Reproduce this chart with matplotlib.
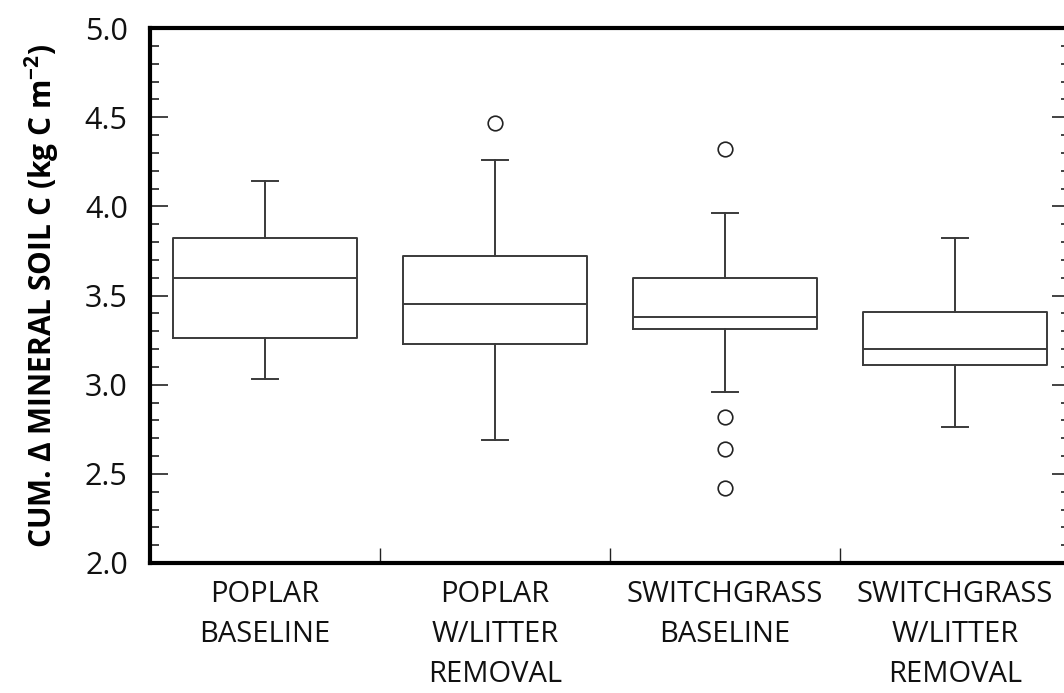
import matplotlib
matplotlib.use("Agg")
import matplotlib.pyplot as plt
from matplotlib.ticker import MultipleLocator, FixedLocator

plt.rcParams['font.family'] = ['Open Sans', 'DejaVu Sans']
plt.rcParams['mathtext.fontset'] = 'custom'
plt.rcParams['mathtext.rm'] = 'Open Sans'
plt.rcParams['mathtext.bf'] = 'Open Sans:bold'

categories = ["POPLAR\nBASELINE", "POPLAR\nW/LITTER\nREMOVAL",
              "SWITCHGRASS\nBASELINE", "SWITCHGRASS\nW/LITTER\nREMOVAL"]
whisker_low = [3.03, 2.69, 2.96, 2.76]
q1 = [3.26, 3.23, 3.31, 3.11]
median = [3.60, 3.45, 3.38, 3.20]
q3 = [3.82, 3.72, 3.60, 3.41]
whisker_high = [4.14, 4.26, 3.96, 3.82]
outliers = [[], [4.47], [4.32, 2.82, 2.64, 2.42], []]
yticks = [2.0, 2.5, 3.0, 3.5, 4.0, 4.5, 5.0]

stats = []
for i in range(len(categories)):
    stats.append(dict(whislo=whisker_low[i], q1=q1[i], med=median[i], q3=q3[i],
                      whishi=whisker_high[i], fliers=outliers[i], label=categories[i]))

fig = plt.figure(figsize=(10.64, 6.93), dpi=100)
ax = fig.add_axes([150/1064, (693-563)/693, (1070-150)/1064, (563-28)/693])

lc = '#3a3a3a'
positions = list(range(1, len(categories) + 1))
ax.bxp(stats, positions=positions, widths=0.8, capwidths=0.11,
       boxprops=dict(color=lc, linewidth=1.4),
       medianprops=dict(color=lc, linewidth=1.4),
       whiskerprops=dict(color=lc, linewidth=1.4),
       capprops=dict(color=lc, linewidth=1.4),
       flierprops=dict(marker='o', markerfacecolor='none', markeredgecolor='#222222',
                       markersize=10.5, markeredgewidth=1.2))

ax.set_xlim(0.5, 4.5)
ax.set_ylim(2.0, 5.0)
ax.set_yticks(yticks)
ax.set_yticklabels([f"{v:.1f}" for v in yticks], fontsize=22, color='#111111')
ax.yaxis.set_minor_locator(MultipleLocator(0.1))
ax.tick_params(axis='y', which='major', direction='in', length=13, width=1.2,
               left=True, right=True, pad=16, color='#222222')
ax.tick_params(axis='y', which='minor', direction='in', length=6.5, width=1.2,
               left=True, right=True, color='#222222')

ax.set_xticks(positions)
ax.set_xticklabels(categories, fontsize=21, color='#111111', linespacing=1.5)
ax.tick_params(axis='x', which='major', length=0, pad=12)
ax.xaxis.set_minor_locator(FixedLocator([1.5, 2.5, 3.5]))
ax.tick_params(axis='x', which='minor', direction='in', length=11, width=1.0,
               bottom=True, top=False, color='#222222')

for s in ['left', 'bottom', 'top']:
    ax.spines[s].set_linewidth(3)
    ax.spines[s].set_color('black')
ax.spines['right'].set_visible(False)

ax.set_ylabel(r'CUM. Δ MINERAL SOIL C (kg C m$^{\mathbf{-2}}$)', fontsize=21.5,
              fontweight='bold', labelpad=17)

fig.savefig("out.png", dpi=100)
